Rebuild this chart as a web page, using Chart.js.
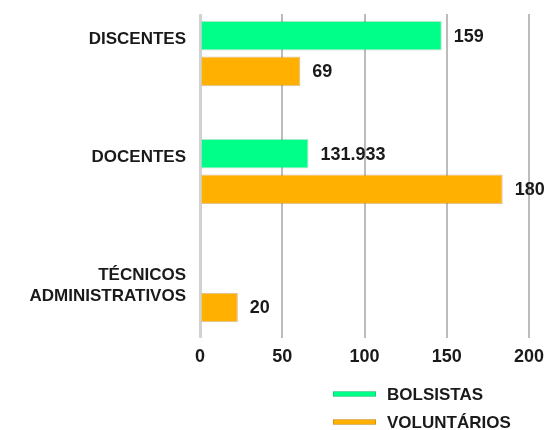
<!DOCTYPE html>
<html>
<head>
<meta charset="utf-8">
<script src="https://cdn.jsdelivr.net/npm/chart.js@4.4.0/dist/chart.umd.min.js"></script>
<style>
html,body{margin:0;padding:0;background:#ffffff;}
#wrap{width:553px;height:430px;}
</style>
</head>
<body>
<div id="wrap"><canvas id="c" width="553" height="430"></canvas></div>
<script>
// ---- data ----
const categories = ['DISCENTES', 'DOCENTES', 'TÉCNICOS ADMINISTRATIVOS'];
const seriesNames = ['BOLSISTAS', 'VOLUNTÁRIOS'];
// bar lengths as drawn against the 0–200 axis
const bolsistas = [147, 66, null];
const voluntarios = [61, 184, 23];
// value labels as printed next to the bars
const bolsistasLabels = ['159', '131.933', ''];
const voluntariosLabels = ['69', '180', '20'];
const xTicks = [0, 50, 100, 150, 200];

const colors = ['#00FF88', '#FFB000'];
const FONT = '"Liberation Sans", Arial, sans-serif';
const TEXT = '#1a1a1a';

const valueLabelPlugin = {
  id: 'valueLabels',
  afterDatasetsDraw(chart) {
    const ctx = chart.ctx;
    chart.data.datasets.forEach((ds, di) => {
      const meta = chart.getDatasetMeta(di);
      meta.data.forEach((bar, i) => {
        const t = ds.valueLabels[i];
        if (!t || !isFinite(bar.x)) return;
        ctx.save();
        ctx.font = 'bold 18px ' + FONT;
        ctx.fillStyle = TEXT;
        ctx.textAlign = 'left';
        ctx.textBaseline = 'middle';
        ctx.fillText(t, bar.x + 12, bar.y + 1);
        ctx.restore();
      });
    });
  }
};

const legendPlugin = {
  id: 'stackedLegend',
  afterDraw(chart) {
    const ctx = chart.ctx;
    const left = chart.chartArea.left + 133;
    const top = chart.chartArea.bottom + 56;
    chart.data.datasets.forEach((ds, i) => {
      const y = top + i * 28;
      ctx.save();
      ctx.fillStyle = ds.backgroundColor;
      ctx.fillRect(left, y - 2.5, 43, 5);
      ctx.strokeStyle = 'rgba(0,0,0,0.15)';
      ctx.lineWidth = 1;
      ctx.strokeRect(left + 0.5, y - 2.5, 42, 5);
      ctx.font = 'bold 17px ' + FONT;
      ctx.fillStyle = TEXT;
      ctx.textAlign = 'left';
      ctx.textBaseline = 'middle';
      ctx.fillText(ds.label, left + 54, y + 1);
      ctx.restore();
    });
  }
};

new Chart(document.getElementById('c'), {
  type: 'bar',
  data: {
    datasets: [
      {
        label: seriesNames[0],
        data: bolsistas.map((v, i) => ({x: v, y: i})),
        valueLabels: bolsistasLabels,
        backgroundColor: colors[0],
        borderColor: 'rgba(0,0,0,0.15)',
        borderWidth: 1
      },
      {
        label: seriesNames[1],
        data: voluntarios.map((v, i) => ({x: v, y: i})),
        valueLabels: voluntariosLabels,
        backgroundColor: colors[1],
        borderColor: 'rgba(120,70,0,0.35)',
        borderWidth: 1
      }
    ]
  },
  options: {
    indexAxis: 'y',
    responsive: false,
    animation: false,
    devicePixelRatio: 1,
    categoryPercentage: 0.606,
    barPercentage: 0.83,
    layout: {padding: {top: 14, right: 24, bottom: 57, left: 0}},
    plugins: {legend: {display: false}, tooltip: {enabled: false}},
    scales: {
      x: {
        type: 'linear',
        position: 'bottom',
        min: xTicks[0],
        max: xTicks[xTicks.length - 1],
        afterBuildTicks(s) { s.ticks = xTicks.map(v => ({value: v})); },
        ticks: {color: TEXT, font: {family: FONT, size: 18, weight: 'bold'}, padding: 8},
        grid: {
          color: c => (c.tick && c.tick.value === 0) ? '#d2d2d2' : '#bcbcbc',
          lineWidth: c => (c.tick && c.tick.value === 0) ? 3 : 2,
          drawTicks: false
        },
        border: {display: false},
        afterFit(s) { s.height = 35; }
      },
      y: {
        type: 'linear',
        offset: false,
        reverse: true,
        min: -0.335,
        max: 2.41,
        afterBuildTicks(s) { s.ticks = categories.map((_, i) => ({value: i})); },
        ticks: {
          color: TEXT,
          font: {family: FONT, size: 17, weight: 'bold'},
          padding: 14,
          labelOffset: -14,
          callback: v => {
            const parts = categories[v].split(' ');
            return parts.length > 1 ? [''].concat(parts) : parts[0];
          }
        },
        grid: {display: false, drawTicks: false, offset: false},
        border: {display: false},
        afterFit(s) { s.width = 200; s.paddingTop = 0; s.paddingBottom = 0; }
      }
    }
  },
  plugins: [valueLabelPlugin, legendPlugin]
});
</script>
</body>
</html>
